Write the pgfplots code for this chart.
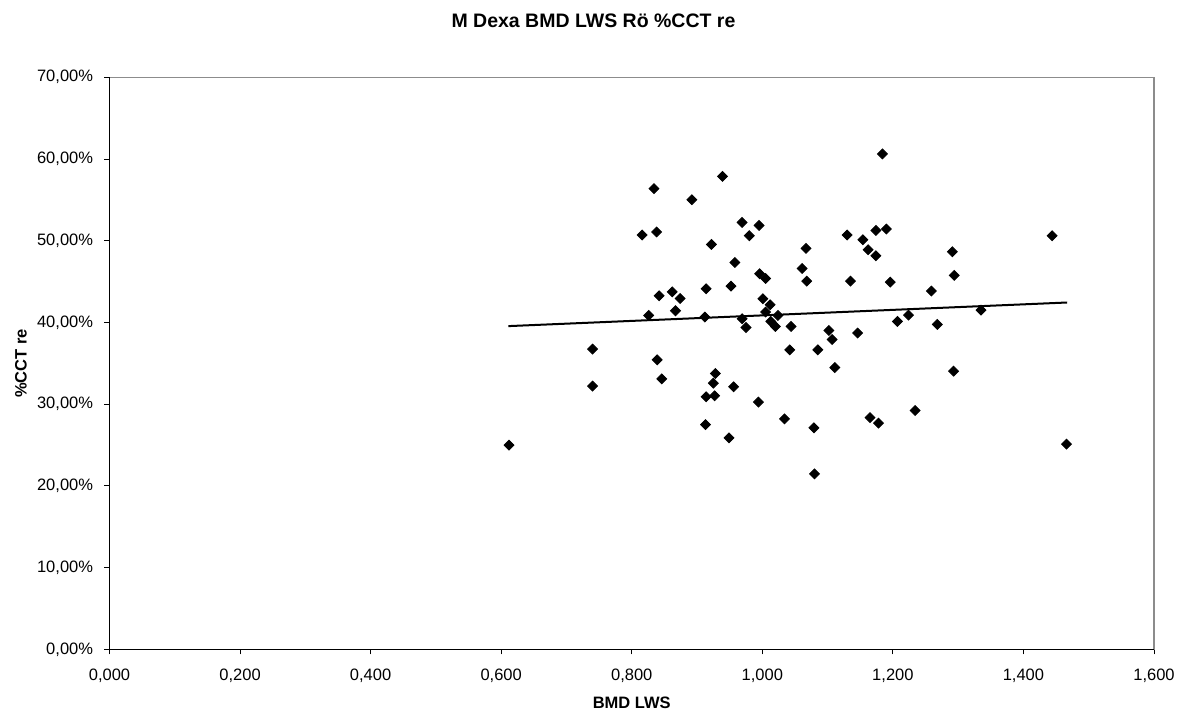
\documentclass[border=0pt]{standalone}
\usepackage{pgfplots}
\pgfplotsset{compat=1.18}
\usepackage{fontspec}
\setmainfont{Liberation Sans}
\pgfplotstableread{
x y
0.612 24.98
0.740 36.74
0.740 32.21
0.834 56.37
0.939 57.87
0.892 55.02
0.816 50.70
0.838 51.07
0.969 52.24
0.995 51.87
0.980 50.61
0.922 49.55
0.958 47.34
1.067 49.06
1.061 46.61
1.068 45.06
1.130 50.70
1.154 50.12
1.174 51.26
1.190 51.43
1.162 48.90
1.174 48.16
1.184 60.62
1.135 45.06
1.196 44.94
0.996 45.96
1.005 45.38
0.842 43.26
0.862 43.75
0.874 42.93
0.914 44.12
0.952 44.45
1.001 42.90
1.012 42.16
0.867 41.43
0.826 40.85
0.912 40.66
0.969 40.45
0.975 39.38
1.005 41.27
1.024 40.85
1.013 40.12
1.020 39.51
1.044 39.51
1.102 39.02
1.107 37.91
1.146 38.70
1.042 36.65
1.085 36.65
0.839 35.43
1.111 34.48
0.846 33.10
0.928 33.75
0.925 32.57
0.914 30.90
0.927 31.02
0.956 32.12
0.994 30.25
1.034 28.20
1.079 27.10
1.165 28.36
1.178 27.68
0.913 27.50
0.949 25.88
1.080 21.47
1.291 48.65
1.294 45.75
1.259 43.84
1.444 50.61
1.207 40.12
1.224 40.90
1.268 39.75
1.335 41.51
1.293 34.04
1.234 29.22
1.466 25.10
}\datatable
\begin{document}
\begin{tikzpicture}
\fill[white] (0,0) rectangle (593.5pt,357.5pt);
\begin{axis}[
  at={(54.75pt,32.85pt)}, anchor=south west,
  width=522.25pt, height=286pt, scale only axis,
  xmin=0, xmax=1.6, ymin=0, ymax=70,
  xtick={0,0.2,0.4,0.6,0.8,1.0,1.2,1.4,1.6},
  xticklabels={{0,000},{0,200},{0,400},{0,600},{0,800},{1,000},{1,200},{1,400},{1,600}},
  ytick={0,10,20,30,40,50,60,70},
  yticklabels={{0,00\%},{10,00\%},{20,00\%},{30,00\%},{40,00\%},{50,00\%},{60,00\%},{70,00\%}},
  tick pos=left, tick align=outside, major tick length=2.5pt,
  tick style={black, line width=0.5pt},
  ticklabel style={font=\fontsize{8.25pt}{10pt}\selectfont},
  xticklabel style={yshift=-4pt},
  yticklabel style={xshift=-2.2pt},
  axis line style={draw=gray!90, line width=0.6pt},
  xlabel={BMD LWS}, ylabel={\%CCT re},
  label style={font=\fontsize{8.25pt}{10pt}\selectfont\bfseries},
  xlabel style={at={(axis description cs:0.5,-0.0939)}, anchor=center},
  ylabel style={at={(axis description cs:-0.0847,0.5)}, anchor=center},
  clip=false,
]
\addplot[only marks, mark=square*, mark size=1.75pt, mark options={rotate=45, fill=black, draw=black}] table[x=x,y=y] {\datatable};
\addplot[black, line width=1pt] coordinates {(0.611,39.55) (1.467,42.44)};
\draw[black, line width=0.6pt] (rel axis cs:0,1) -- (rel axis cs:0,0) -- (rel axis cs:1,0);
\end{axis}
\node[font=\fontsize{9.75pt}{11pt}\selectfont\bfseries] at (296.75pt,347pt) {M Dexa BMD LWS Rö \%CCT re};
\end{tikzpicture}
\end{document}
